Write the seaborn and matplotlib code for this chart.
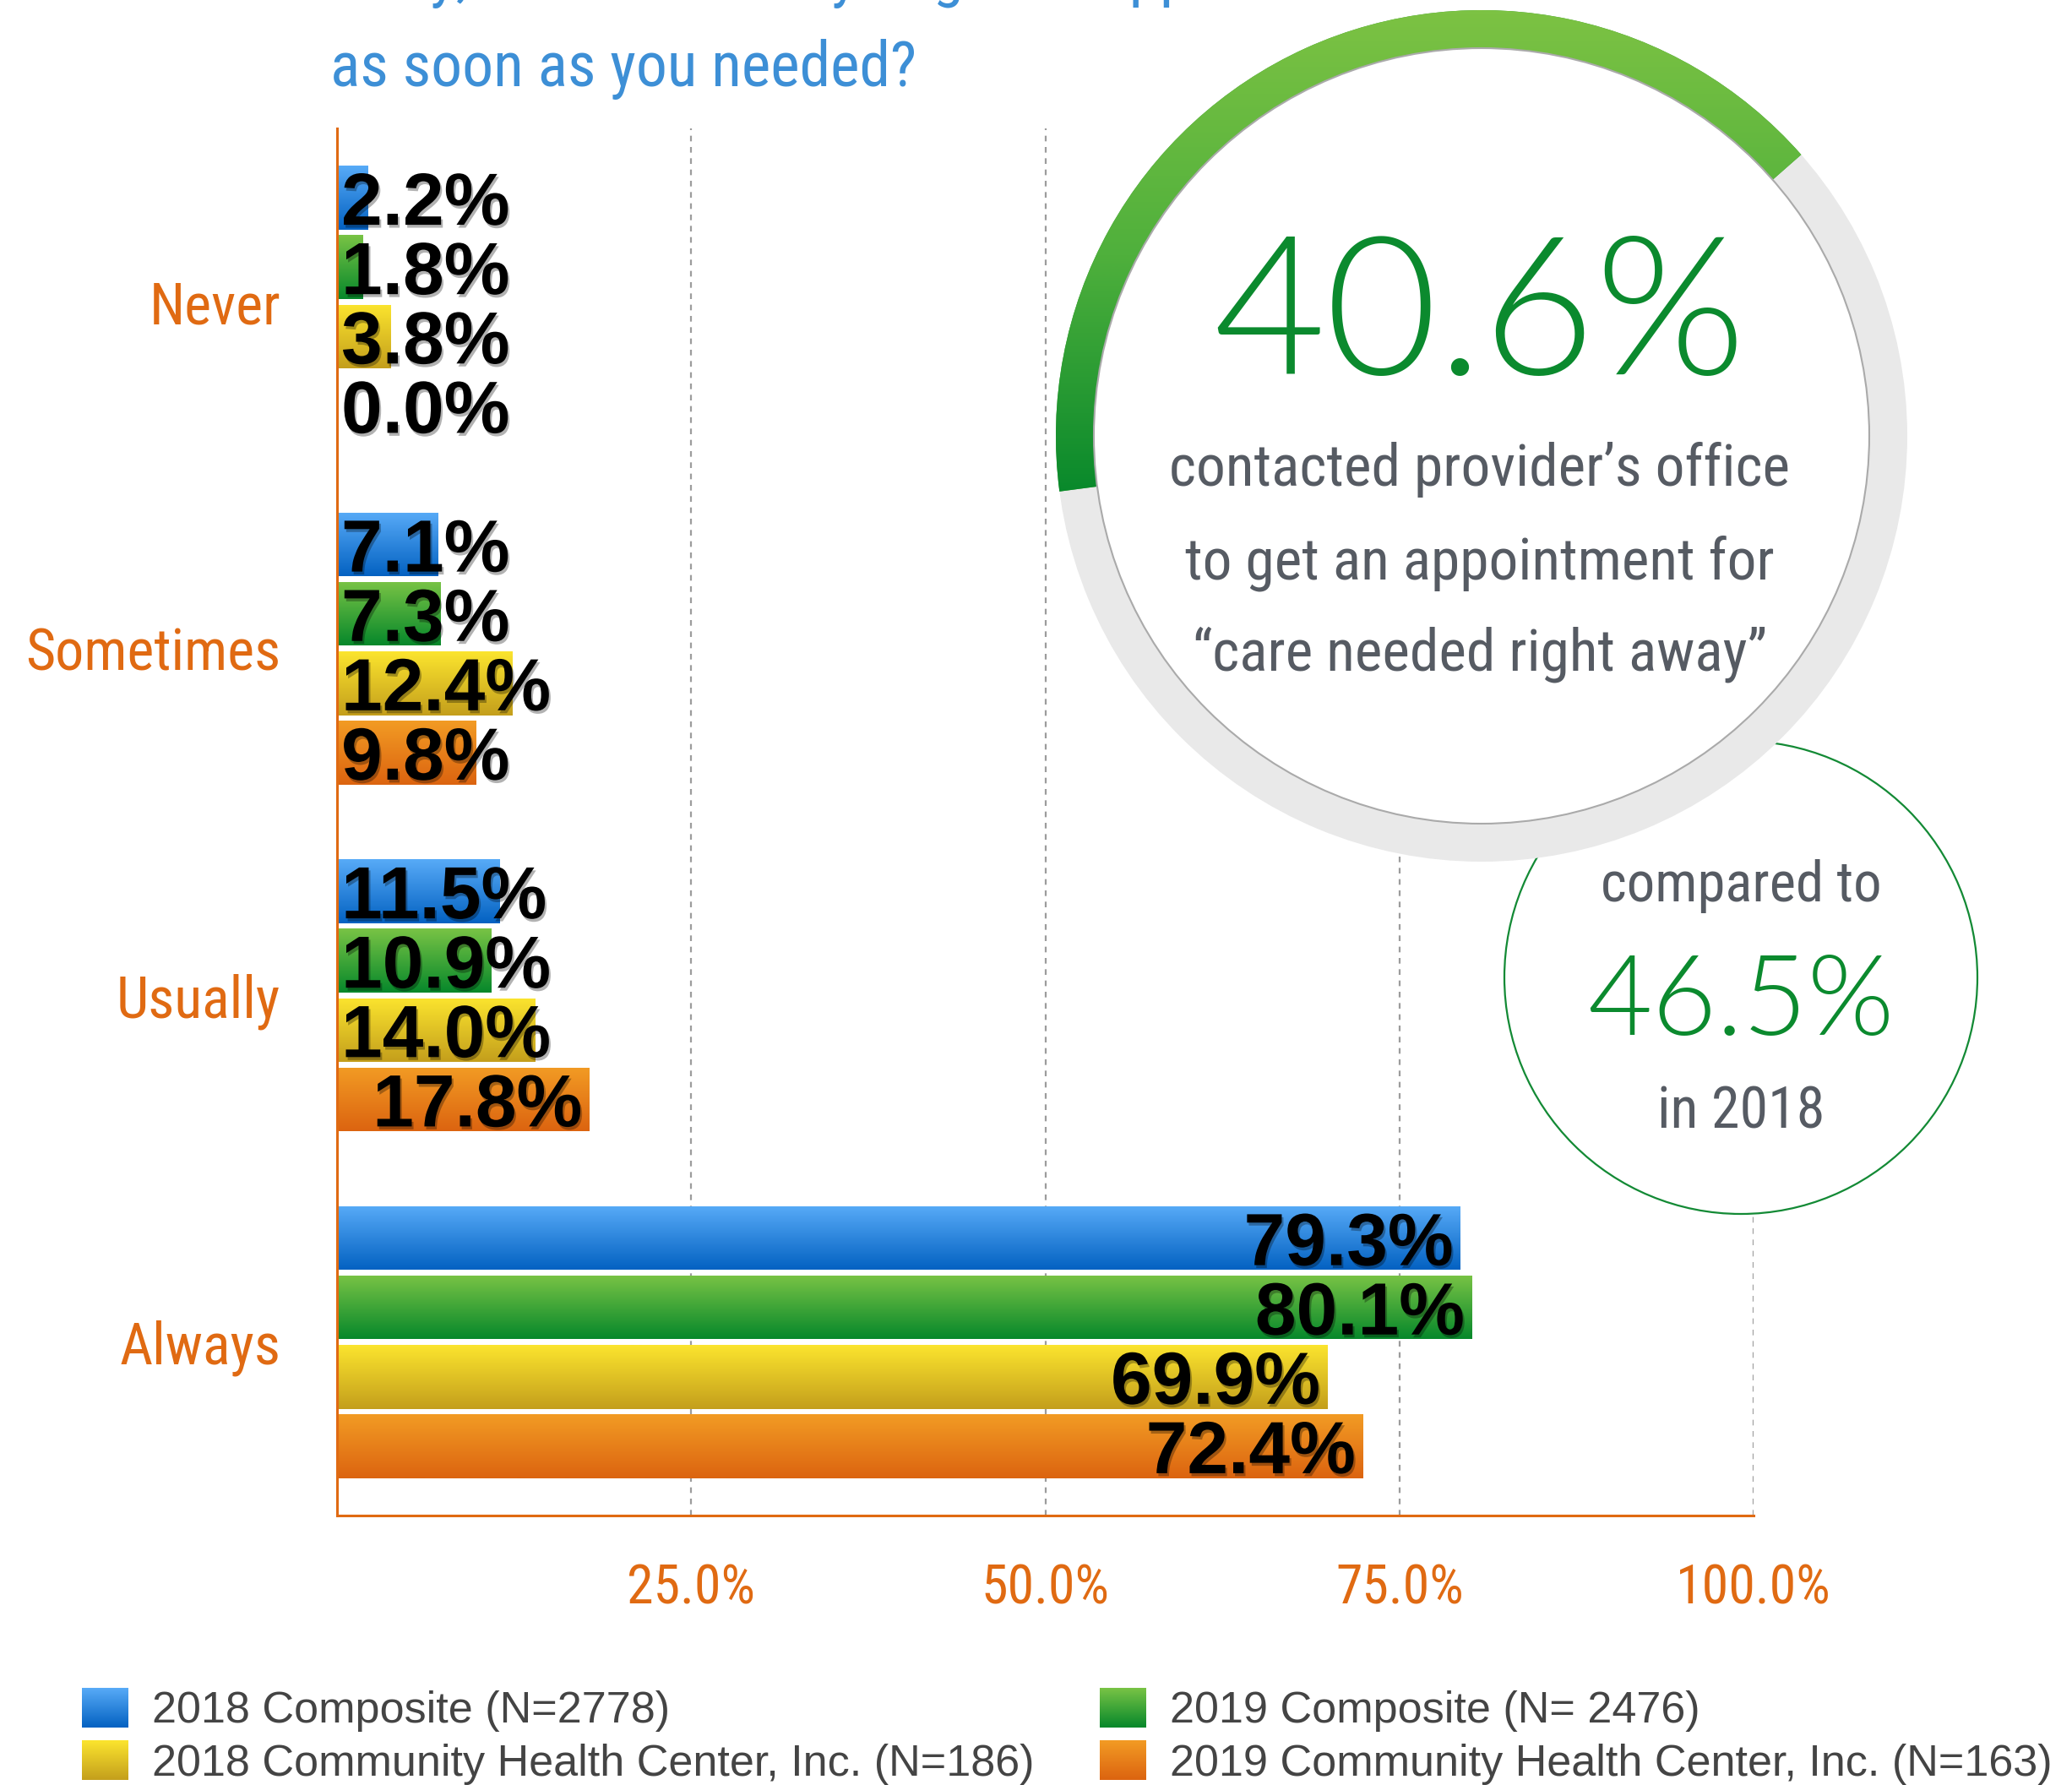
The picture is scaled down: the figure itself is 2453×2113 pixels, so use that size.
import numpy as np
import pandas as pd
import matplotlib
matplotlib.use("Agg")
import matplotlib.pyplot as plt
import matplotlib.patheffects as pe
import matplotlib.transforms as mtrans
from matplotlib.patches import Circle, Wedge, Patch
from matplotlib.colors import LinearSegmentedColormap, to_rgba, to_rgb
import seaborn as sns

# ---- data ----
categories = ["Never", "Sometimes", "Usually", "Always"]
series = ["2018 Composite (N=2778)", "2019 Composite (N= 2476)",
          "2018 Community Health Center, Inc. (N=186)",
          "2019 Community Health Center, Inc. (N=163)"]
comp_2018 = [2.2, 7.1, 11.5, 79.3]
comp_2019 = [1.8, 7.3, 10.9, 80.1]
chc_2018 = [3.8, 12.4, 14.0, 69.9]
chc_2019 = [0.0, 9.8, 17.8, 72.4]
x_ticks = [25, 50, 75, 100]
x_tick_labels = ["25.0%", "50.0%", "75.0%", "100.0%"]
current_pct = 40.6
previous_pct = 46.5

# ---- styling ----
bar_mid = ["#2d86de", "#3ea63a", "#e4c624", "#e88019"]
grad_top = ["#57aaf7", "#78c345", "#fbe42e", "#f29b24"]
grad_bot = ["#0462c2", "#07882b", "#c49f1c", "#dc6410"]
W, H = 2453, 2113
NARROW = ["Roboto Condensed", "PT Sans Narrow", "DejaVu Sans"]
THIN = ["Lato", "DejaVu Sans"]
ORANGE = "#e06a12"
GRAY_TXT = "#565b63"
GREEN_TXT = "#0b8a2e"
BLUE_TXT = "#3d8fd6"

sns.set_style("white")
plt.rcParams["font.family"] = ["Liberation Sans", "DejaVu Sans"]

df = pd.DataFrame({
    "response": categories * 4,
    "series": np.repeat(series, len(categories)),
    "pct": comp_2018 + comp_2019 + chc_2018 + chc_2019,
})

fig = plt.figure(figsize=(W / 100, H / 100), dpi=100)
ax = fig.add_axes([399 / W, 1 - 1794 / H, (2076 - 399) / W, (1794 - 152) / H])

sns.barplot(data=df, x="pct", y="response", hue="series", order=categories,
            hue_order=series, palette=dict(zip(series, bar_mid)), orient="h",
            width=0.8, gap=0.08, saturation=1, errorbar=None, legend=False,
            linewidth=0, ax=ax)

# vertical gradient on every bar
bars = list(ax.patches)
mids = [np.array(to_rgba(c)) for c in bar_mid]
for p in bars:
    k = int(np.argmin([np.abs(np.array(p.get_facecolor()) - m).sum() for m in mids]))
    x0, y0, w, h = p.get_x(), p.get_y(), p.get_width(), p.get_height()
    if w <= 0:
        continue
    cmap = LinearSegmentedColormap.from_list("g%d" % k, [grad_top[k], grad_bot[k]])
    im = ax.imshow(np.linspace(0, 1, 64).reshape(-1, 1), cmap=cmap, aspect="auto",
                   extent=[x0, x0 + w, y0 + h, y0], origin="upper", zorder=1.5,
                   interpolation="bilinear")
    im.set_clip_path(p)

ax.set_xlim(0, 100)
ax.set_ylim(3.5, -0.5)
ax.set_xticks(x_ticks, x_tick_labels)
ax.set_xlabel("")
ax.set_ylabel("")
ax.xaxis.grid(True, color="#9c9c9c", linestyle=(0, (3, 3)), linewidth=1.6)
ax.yaxis.grid(False)
ax.set_axisbelow(True)
for s in ["top", "right"]:
    ax.spines[s].set_visible(False)
for s in ["left", "bottom"]:
    ax.spines[s].set_color(ORANGE)
    ax.spines[s].set_linewidth(2.2)
ax.tick_params(axis="x", length=0, pad=40, labelsize=46, labelcolor=ORANGE)
ax.tick_params(axis="y", length=0, pad=48, labelsize=49, labelcolor=ORANGE)
for lab in ax.get_xticklabels() + ax.get_yticklabels():
    lab.set_family(NARROW)

# value labels: right aligned at bar end, pushed right when they don't fit
fig.canvas.draw()
r = fig.canvas.get_renderer()
ax_left = ax.get_window_extent(r).x0
shift = mtrans.ScaledTranslation(0, -0.32, fig.dpi_scale_trans)
for p in bars:
    v = p.get_width()
    yc = p.get_y() + p.get_height() / 2
    t = ax.text(v - 0.5, yc, f"{v:.1f}%", ha="right", va="baseline",
                transform=ax.transData + shift, fontsize=63, fontweight="bold",
                color="black", zorder=4,
                path_effects=[pe.withSimplePatchShadow(offset=(1.5, -2.5),
                                                       shadow_rgbFace="black", alpha=0.3)])
    bb = t.get_window_extent(r)
    if bb.x0 < ax_left + 2:
        t.set_ha("left")
        t.set_x(0.3)

# ---- overlay in pixel coordinates: title, circles, callout text ----
ov = fig.add_axes([0, 0, 1, 1], zorder=5)
ov.set_xlim(0, W)
ov.set_ylim(0, H)
ov.axis("off")
ov.patch.set_alpha(0)

ov.text(391, H + 6, "away, how often did you get an appointment for care",
        fontsize=53, family=NARROW, color=BLUE_TXT, ha="left", va="baseline")
ov.text(391, H - 102, "as soon as you needed?", fontsize=53, family=NARROW,
        color=BLUE_TXT, ha="left", va="baseline")

sc = (2061, H - 1157)
ov.add_patch(Circle(sc, 280, fc="white", ec="#138a35", lw=1.6))

bc = (1754, H - 516)
R, RW = 504, 45
ov.add_patch(Wedge(bc, R, 0, 360, width=RW, fc="#e9e9e9", ec="none"))
start = 187.5
arc = Wedge(bc, R, start - 360 * current_pct / 100, start, width=RW, fc="#3ea63a", ec="none")
ov.add_patch(arc)
gcm = LinearSegmentedColormap.from_list("arc", ["#07882b", "#4fb03c", "#7cc243"])
gim = ov.imshow(np.linspace(0, 1, 128).reshape(-1, 1), cmap=gcm, aspect="auto",
                extent=[bc[0] - R, bc[0] + R, bc[1] - 0.15 * R, bc[1] + R],
                origin="lower", zorder=2, interpolation="bilinear")
gim.set_clip_path(arc)
ov.add_patch(Circle(bc, R - RW, fc="white", ec="#aaaaaa", lw=1.5, zorder=3))
ov.set_xlim(0, W)
ov.set_ylim(0, H)

ov.text(1752, H - 443, f"{current_pct:.1f}%", fontsize=165, family=THIN,
        fontweight=300, color=GREEN_TXT, ha="center", va="baseline", zorder=4)
for yb, line in zip([575, 685, 793], ["contacted provider\u2019s office",
                                      "to get an appointment for",
                                      "\u201ccare needed right away\u201d"]):
    ov.text(1752, H - yb, line, fontsize=50, family=NARROW,
            color=GRAY_TXT, ha="center", va="baseline", zorder=4)

ov.text(2061, H - 1067, "compared to", fontsize=48, family=NARROW,
        color=GRAY_TXT, ha="center", va="baseline", zorder=4)
ov.text(2061, H - 1225, f"{previous_pct:.1f}%", fontsize=95, family=THIN,
        fontweight=300, color=GREEN_TXT, ha="center", va="baseline", zorder=4)
ov.text(2061, H - 1335, "in 2018", fontsize=49, family=NARROW,
        color=GRAY_TXT, ha="center", va="baseline", zorder=4)

# ---- legend, two columns placed separately ----
handles = [Patch(facecolor=c, edgecolor="none") for c in bar_mid]
leg_kw = dict(loc="upper left", frameon=False, prop={"family": "Liberation Sans", "size": 37.5},
              labelcolor="#444444", handlelength=1.05, handleheight=1.0,
              handletextpad=0.55, labelspacing=0.2, borderpad=0, borderaxespad=0)
leg_a = fig.legend([handles[0], handles[2]], [series[0], series[2]],
                   bbox_to_anchor=(97 / W, 1 - 1998 / H), **leg_kw)
leg_b = fig.legend([handles[1], handles[3]], [series[1], series[3]],
                   bbox_to_anchor=(1302 / W, 1 - 1998 / H), **leg_kw)

# gradient on the legend swatches, painted in pixels over the solid patches
fig.canvas.draw()
r = fig.canvas.get_renderer()
for leg, ks in [(leg_a, [0, 2]), (leg_b, [1, 3])]:
    for hnd, k in zip(leg.legend_handles, ks):
        bb = hnd.get_window_extent(r)
        hh, ww = int(round(bb.height)), int(round(bb.width))
        f = np.linspace(0, 1, hh)[:, None, None]
        img = (1 - f) * np.array(to_rgb(grad_top[k])) + f * np.array(to_rgb(grad_bot[k]))
        img = np.repeat(img, ww, axis=1)
        fig.figimage(img, xo=int(round(bb.x0)), yo=int(round(bb.y0)), origin="upper", zorder=10)

fig.savefig("out.png", dpi=100)
